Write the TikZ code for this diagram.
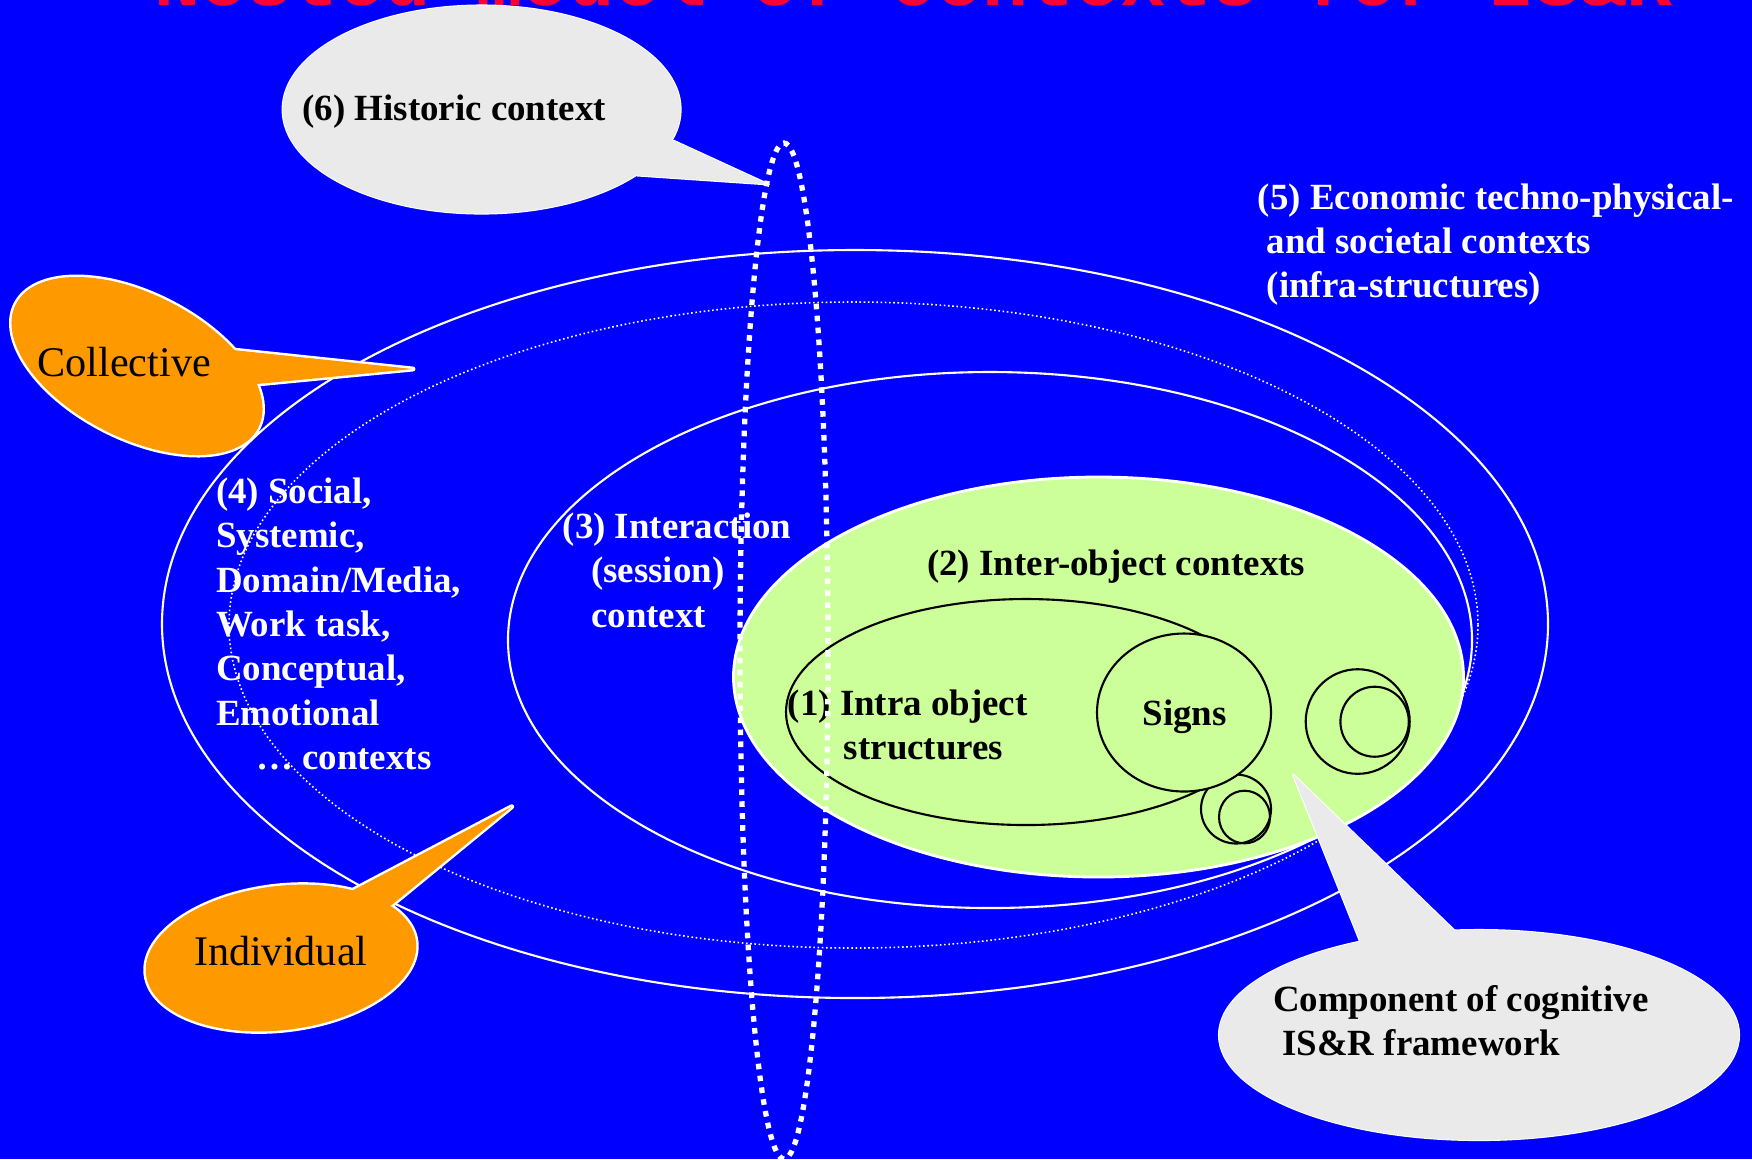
\documentclass[tikz,border=0pt]{standalone}
\usepackage{fontspec}
\setmainfont{Liberation Serif}
\newfontfamily\titlefont{Liberation Mono}
\definecolor{bgblue}{RGB}{0,0,255}
\definecolor{bubgray}{RGB}{234,234,234}
\definecolor{buborange}{RGB}{255,153,0}
\definecolor{ctxgreen}{RGB}{204,255,153}
\definecolor{titlered}{RGB}{255,0,51}
\newcommand\mylines[1]{\begin{tabular}[t]{@{}l@{}}#1\end{tabular}}
\begin{document}
\begin{tikzpicture}[x=0.01cm,y=-0.01cm,
  lbl/.style={inner sep=0pt, anchor=base west, font={\fontsize{10.5}{12.6}\selectfont\bfseries}},
  wlbl/.style={lbl, text=white},
  bubtxt/.style={inner sep=0pt, anchor=base west, font={\fontsize{12}{14}\selectfont}},
  ctxline/.style={draw=white, line width=0.6pt},
  thinline/.style={draw=black, line width=0.6pt},
  bubedge/.style={draw=white, line join=round, line cap=round}]
\useasboundingbox (0,0) rectangle (1752,1159);
\clip (0,0) rectangle (1752,1159);
\fill[bgblue] (0,0) rectangle (1752,1159);
\node[anchor=base west, inner sep=0pt, text=titlered, font={\titlefont\bfseries\fontsize{21.8}{24}\selectfont}] (title) at (154,5) {Nested model of contexts for IS\&R};

% nested contexts
\draw[ctxline] (855,624) ellipse [x radius=693, y radius=374];
\draw[white, line width=0.45pt, dash pattern=on 0.45pt off 0.75pt] (853.5,625) ellipse [x radius=624.5, y radius=323];
\draw[ctxline] (990,640) ellipse [x radius=482, y radius=268];
\filldraw[fill=ctxgreen, draw=white, line width=0.8pt] (1098.5,677) ellipse [x radius=365, y radius=200];
\draw[thinline] (1026,712) ellipse [x radius=240, y radius=113];
\draw[thinline] (1236,809) ellipse [x radius=35, y radius=34.5];
\draw[thinline] (1244.5,817) ellipse [x radius=25.5, y radius=26.3];
\filldraw[fill=ctxgreen, thinline] (1184,712.5) ellipse [x radius=87, y radius=79];
\draw[thinline] (1357.7,721.5) ellipse [x radius=52, y radius=52.3];
\draw[thinline] (1374.6,721.7) ellipse [x radius=34.2, y radius=35];

% labels
\node[wlbl] (t5) at (1257,209) {\mylines{(5) Economic techno-physical-\\ \hspace*{2.6pt}and societal contexts\\ \hspace*{2.6pt}(infra-structures)}};
\node[wlbl] (t4) at (215.3,503.5) {\mylines{(4) Social,\\ Systemic,\\ Domain/Media,\\ Work task,\\ Conceptual,\\ Emotional\\ \hspace*{11.4pt}… contexts}};
\node[wlbl] (t3) at (562,538.5) {\mylines{(3) Interaction\\ \hspace*{8.1pt}(session)\\ \hspace*{8.1pt}context}};
\node[lbl] (t2) at (926.5,575) {(2) Inter-object contexts};
\node[lbl] (t1) at (787,715.5) {\mylines{(1) Intra object\\ \hspace*{16pt}structures}};
\node[lbl] (signs) at (1142,725.5) {Signs};

% historic context bubble
\draw[bubedge, line width=0.6pt] (481.6,109.5) ellipse [x radius=199, y radius=104];
\draw[bubedge, line width=0.6pt] (673.8,140.8) -- (768.7,184.4) -- (636.9,175.4);
\fill[bubgray] (481.6,109.5) ellipse [x radius=199, y radius=104];
\fill[bubgray] (673.8,140.8) -- (768.7,184.4) -- (636.9,175.4) -- (560,120) -- cycle;
\node[lbl] (t6) at (301.7,120.7) {(6) Historic context};

% component bubble
\draw[bubedge, line width=0.6pt] (1479,1035) ellipse [x radius=260, y radius=105];
\draw[bubedge, line width=0.6pt] (1360.2,941.7) -- (1293,774.5) -- (1455,931);
\fill[bubgray] (1479,1035) ellipse [x radius=260, y radius=105];
\fill[bubgray] (1360.2,941.7) -- (1293,774.5) -- (1455,931) -- (1420,1000) -- cycle;
\node[lbl] (tc) at (1272.3,1011.5) {\mylines{Component of cognitive\\ \hspace*{2.6pt}IS\&R framework}};

% collective bubble
\begin{scope}[shift={(137,366)}, rotate=-27]
  \draw[bubedge, line width=1.4pt] (0,0) ellipse [x radius=136, y radius=72];
\end{scope}
\draw[bubedge, line width=1.4pt] (233,350) -- (413,369) -- (257,384);
\begin{scope}[shift={(137,366)}, rotate=-27]
  \fill[buborange] (0,0) ellipse [x radius=136, y radius=72];
\end{scope}
\fill[buborange] (233,350) -- (413,369) -- (257,384) -- (180,370) -- cycle;
\node[bubtxt] (tcol) at (36.7,376.7) {Collective};

% individual bubble
\begin{scope}[shift={(281,958)}, rotate=7]
  \draw[bubedge, line width=1.4pt] (0,0) ellipse [x radius=136, y radius=72];
\end{scope}
\draw[bubedge, line width=1.4pt] (353.3,890) -- (511.7,806.7) -- (391.7,905);
\begin{scope}[shift={(281,958)}, rotate=7]
  \fill[buborange] (0,0) ellipse [x radius=136, y radius=72];
\end{scope}
\fill[buborange] (353.3,890) -- (511.7,806.7) -- (391.7,905) -- (330,940) -- cycle;
\node[bubtxt] (tind) at (193.3,965) {Individual};

% historic vertical dotted ellipse
\draw[white, line width=1.5pt, dash pattern=on 1.6pt off 1.8pt] (784,651) ellipse [x radius=44, y radius=508];
\end{tikzpicture}
\end{document}
